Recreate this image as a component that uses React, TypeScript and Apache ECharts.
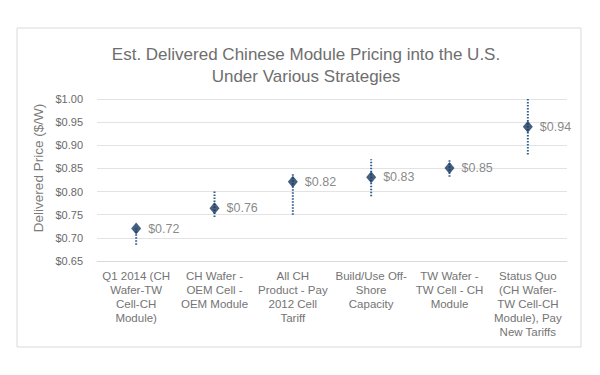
import React, { useEffect, useRef } from "react";
import * as echarts from "echarts";

const categories = [
  "Q1 2014 (CH\nWafer-TW\nCell-CH\nModule)",
  "CH Wafer -\nOEM Cell -\nOEM Module",
  "All CH\nProduct - Pay\n2012 Cell\nTariff",
  "Build/Use Off-\nShore\nCapacity",
  "TW Wafer -\nTW Cell - CH\nModule",
  "Status Quo\n(CH Wafer-\nTW Cell-CH\nModule), Pay\nNew Tariffs",
];
const prices = [0.72, 0.764, 0.821, 0.831, 0.851, 0.94];
const lows = [0.685, 0.745, 0.75, 0.79, 0.832, 0.88];
const highs = [0.72, 0.8, 0.84, 0.87, 0.87, 1.0];
const yMin = 0.65;
const yMax = 1.0;
const yStep = 0.05;

const FONT = "'Liberation Sans', Arial, sans-serif";
const GRAY = "#6a6a6a";

export default function App() {
  const ref = useRef<HTMLDivElement>(null);
  useEffect(() => {
    document.body.style.margin = "0";
    const chart = echarts.init(ref.current!, null, { renderer: "svg" });
    chart.setOption({
      animation: false,
      backgroundColor: "#ffffff",
      textStyle: { fontFamily: FONT },
      title: {
        text: "Est. Delivered Chinese Module Pricing into the U.S.\nUnder Various Strategies",
        left: 301,
        top: 38,
        textAlign: "center",
        textStyle: {
          fontFamily: FONT,
          fontSize: 17,
          fontWeight: "normal",
          color: "#6e6e6e",
          lineHeight: 22,
        },
      },
      graphic: [
        {
          type: "rect",
          shape: { x: 17, y: 28, width: 564, height: 319 },
          style: { fill: "none", stroke: "#d9d9d9", lineWidth: 1 },
          z: -1,
        },
        {
          type: "text",
          x: 38,
          y: 168,
          rotation: Math.PI / 2,
          style: {
            text: "Delivered Price ($/W)",
            fontFamily: FONT,
            fontSize: 13.5,
            fill: "#7a7a7a",
            textAlign: "center",
            textVerticalAlign: "middle",
          },
        },
      ],
      grid: { left: 97, right: 33, top: 99, bottom: 114 },
      xAxis: {
        type: "category",
        data: categories,
        axisTick: { show: false },
        axisLine: { show: true, lineStyle: { color: "#d9d9d9" } },
        axisLabel: {
          interval: 0,
          color: "#747474",
          fontSize: 11.5,
          lineHeight: 14,
          margin: 8,
          fontFamily: FONT,
        },
      },
      yAxis: {
        type: "value",
        min: yMin,
        max: yMax,
        interval: yStep,
        axisLine: { show: false },
        axisTick: { show: false },
        splitLine: { lineStyle: { color: "#e3e3e3" } },
        axisLabel: {
          color: GRAY,
          fontSize: 11,
          margin: 14,
          fontFamily: FONT,
          formatter: (v: number) => "$" + v.toFixed(2),
        },
      },
      series: [
        {
          type: "custom",
          data: categories.map((_, i) => [i, lows[i], highs[i]]),
          renderItem: (params: any, api: any) => {
            const p1 = api.coord([api.value(0), api.value(1)]);
            const p2 = api.coord([api.value(0), api.value(2)]);
            return {
              type: "line",
              shape: { x1: p1[0], y1: p1[1], x2: p2[0], y2: p2[1] },
              style: { stroke: "#2f5f8f", lineWidth: 2, lineDash: [1.5, 1.5] },
            };
          },
          z: 2,
        },
        {
          type: "scatter",
          data: prices,
          symbol: "diamond",
          symbolSize: [10, 12],
          itemStyle: { color: "#17375e" },
          label: {
            show: true,
            position: "right",
            distance: 7,
            color: GRAY,
            fontSize: 12.5,
            fontFamily: FONT,
            formatter: (p: any) => "$" + Number(p.value).toFixed(2),
          },
          z: 3,
        },
      ],
    });
    return () => chart.dispose();
  }, []);
  return <div ref={ref} style={{ width: 600, height: 375 }} />;
}
